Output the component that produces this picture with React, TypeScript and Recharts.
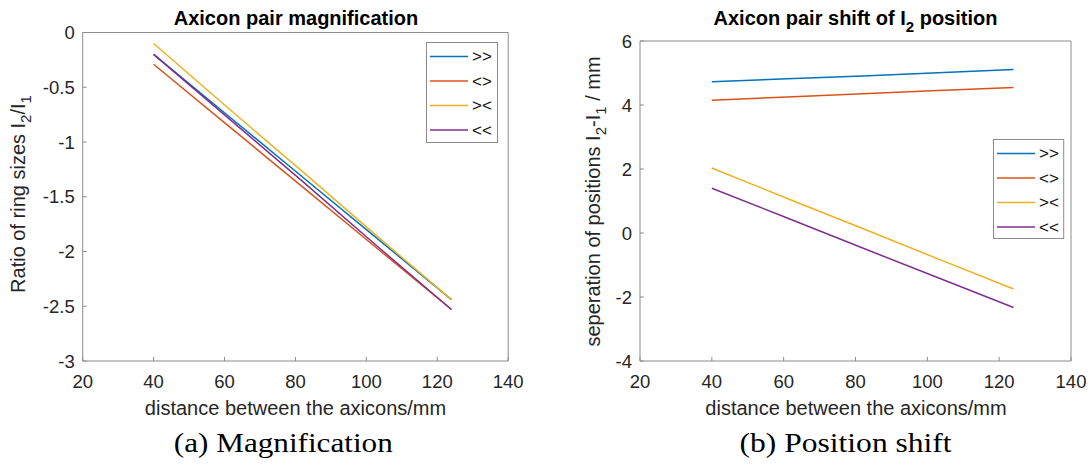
import React from 'react';
import { LineChart, Line, XAxis, YAxis, Legend } from 'recharts';

// distance between the axicons (mm)
const distance = [40, 61, 82, 103, 124];

const seriesNames = ['>>', '<>', '><', '<<'];
const seriesColors = ['#0072BD', '#D95319', '#EDB120', '#7E2F8E'];

// (a) ratio of ring sizes I2/I1
const ratioOutOut = [-0.2, -0.76, -1.32, -1.88, -2.44];
const ratioInOut = [-0.29, -0.85, -1.41, -1.97, -2.53];
const ratioOutIn = [-0.1, -0.69, -1.27, -1.86, -2.44];
const ratioInIn = [-0.2, -0.78, -1.36, -1.95, -2.53];

// (b) separation of positions I2-I1 (mm)
const shiftOutOut = [4.73, 4.82, 4.91, 5.01, 5.11];
const shiftInOut = [4.15, 4.25, 4.35, 4.45, 4.55];
const shiftOutIn = [2.03, 1.08, 0.14, -0.81, -1.75];
const shiftInIn = [1.4, 0.47, -0.47, -1.4, -2.33];

const xTicks = [20, 40, 60, 80, 100, 120, 140];
const ratioTicks = [-3, -2.5, -2, -1.5, -1, -0.5, 0];
const shiftTicks = [-4, -2, 0, 2, 4, 6];

const toRows = (series: number[][]) =>
  distance.map((d, i) => {
    const row: Record<string, number> = { d };
    series.forEach((s, k) => (row['s' + k] = s[i]));
    return row;
  });

const ratioRows = toRows([ratioOutOut, ratioInOut, ratioOutIn, ratioInIn]);
const shiftRows = toRows([shiftOutOut, shiftInOut, shiftOutIn, shiftInIn]);

const sans = 'Liberation Sans, Arial, Helvetica, sans-serif';
const serif = 'Liberation Serif, Times New Roman, serif';
const boxColor = '#8c8c8c';
const W = 545;
const H = 469;

// MATLAB style boxed legend, kept in series order
function BoxLegend({ width, height }: { width: number; height: number }) {
  return (
    <svg width={width} height={height} style={{ display: 'block' }}>
      <rect x={0.5} y={0.5} width={width - 1} height={height - 1} fill="#fff" stroke={boxColor} />
      {seriesNames.map((name, i) => {
        const y = 14.5 + i * 24.5;
        return (
          <g key={name}>
            <line x1={4} x2={42} y1={y} y2={y} stroke={seriesColors[i]} strokeWidth={1.6} />
            <text x={46} y={y} dy="0.35em" fontSize={17} fontFamily={sans} fill="#111">
              {name}
            </text>
          </g>
        );
      })}
    </svg>
  );
}

interface PanelProps {
  rows: Record<string, number>[];
  yDomain: [number, number];
  yTicks: number[];
  plot: { left: number; right: number; top: number; bottom: number };
  legend: { left: number; top: number; width: number; height: number };
}

function Panel({ rows, yDomain, yTicks, plot, legend }: PanelProps) {
  const axisProps = {
    axisLine: { stroke: boxColor },
    tickLine: { stroke: boxColor },
    tickSize: -4,
  };
  return (
    <LineChart
      width={W}
      height={H}
      data={rows}
      margin={{ top: plot.top - 1, left: plot.left - 1, right: W - plot.right - 1, bottom: H - plot.bottom - 1 }}
    >
      <XAxis
        dataKey="d"
        type="number"
        domain={[20, 140]}
        ticks={xTicks}
        height={1}
        tickMargin={17.5}
        tick={{ fill: '#262626', fontSize: 18.5, fontFamily: sans }}
        {...axisProps}
      />
      <XAxis xAxisId="top" orientation="top" dataKey="d" type="number" domain={[20, 140]} ticks={xTicks} height={1} tick={false} {...axisProps} />
      <YAxis
        type="number"
        domain={yDomain}
        ticks={yTicks}
        width={1}
        tickMargin={12}
        tick={{ fill: '#262626', fontSize: 18.5, fontFamily: sans }}
        {...axisProps}
      />
      <YAxis yAxisId="right" orientation="right" type="number" domain={yDomain} ticks={yTicks} width={1} tick={false} {...axisProps} />
      {seriesNames.map((name, k) => (
        <Line
          key={name}
          dataKey={'s' + k}
          name={name}
          type="linear"
          stroke={seriesColors[k]}
          strokeWidth={1.5}
          dot={false}
          isAnimationActive={false}
        />
      ))}
      <Legend
        layout="vertical"
        align="center"
        verticalAlign="middle"
        content={<BoxLegend width={legend.width} height={legend.height} />}
        wrapperStyle={{ left: legend.left, top: legend.top, width: legend.width, height: legend.height }}
      />
    </LineChart>
  );
}

export default function App() {
  return (
    <div style={{ position: 'absolute', left: 0, top: 0, width: 1090, height: 469, background: '#fff', overflow: 'hidden' }}>
      <div style={{ position: 'absolute', left: 0, top: 0 }}>
        <Panel
          rows={ratioRows}
          yDomain={[-3, 0]}
          yTicks={ratioTicks}
          plot={{ left: 82.7, right: 508.2, top: 32.5, bottom: 361 }}
          legend={{ left: 426, top: 42, width: 72, height: 101 }}
        />
      </div>
      <div style={{ position: 'absolute', left: 545, top: 0 }}>
        <Panel
          rows={shiftRows}
          yDomain={[-4, 6]}
          yTicks={shiftTicks}
          plot={{ left: 95, right: 526, top: 41, bottom: 361 }}
          legend={{ left: 448.4, top: 139, width: 71.2, height: 100 }}
        />
      </div>
      <svg width={1090} height={469} style={{ position: 'absolute', left: 0, top: 0, pointerEvents: 'none' }}>
        <g fontFamily={sans} fill="#000">
          <text x={296} y={25} textAnchor="middle" fontSize={20} fontWeight="bold">
            Axicon pair magnification
          </text>
          <text x={855.5} y={25} textAnchor="middle" fontSize={20} fontWeight="bold">
            Axicon pair shift of I<tspan dy={7} fontSize={15}>2</tspan>
            <tspan dy={-7}> position</tspan>
          </text>
        </g>
        <g fontFamily={sans} fill="#262626" fontSize={20}>
          <text x={295.5} y={415} textAnchor="middle">distance between the axicons/mm</text>
          <text x={856} y={415} textAnchor="middle">distance between the axicons/mm</text>
          <text transform="translate(25,194) rotate(-90)" textAnchor="middle">
            Ratio of ring sizes I<tspan dy={6} fontSize={15}>2</tspan>
            <tspan dy={-6}>/I</tspan>
            <tspan dy={6} fontSize={15}>1</tspan>
          </text>
          <text transform="translate(600,201.5) rotate(-90)" textAnchor="middle">
            seperation of positions I<tspan dy={6} fontSize={15}>2</tspan>
            <tspan dy={-6}>-I</tspan>
            <tspan dy={6} fontSize={15}>1</tspan>
            <tspan dy={-6}> / mm</tspan>
          </text>
        </g>
        <g fontFamily={serif} fill="#000" fontSize={28}>
          <text x={173.8} y={452} textLength={219} lengthAdjust="spacingAndGlyphs">(a) Magnification</text>
          <text x={739.6} y={452} textLength={212} lengthAdjust="spacingAndGlyphs">(b) Position shift</text>
        </g>
      </svg>
    </div>
  );
}
